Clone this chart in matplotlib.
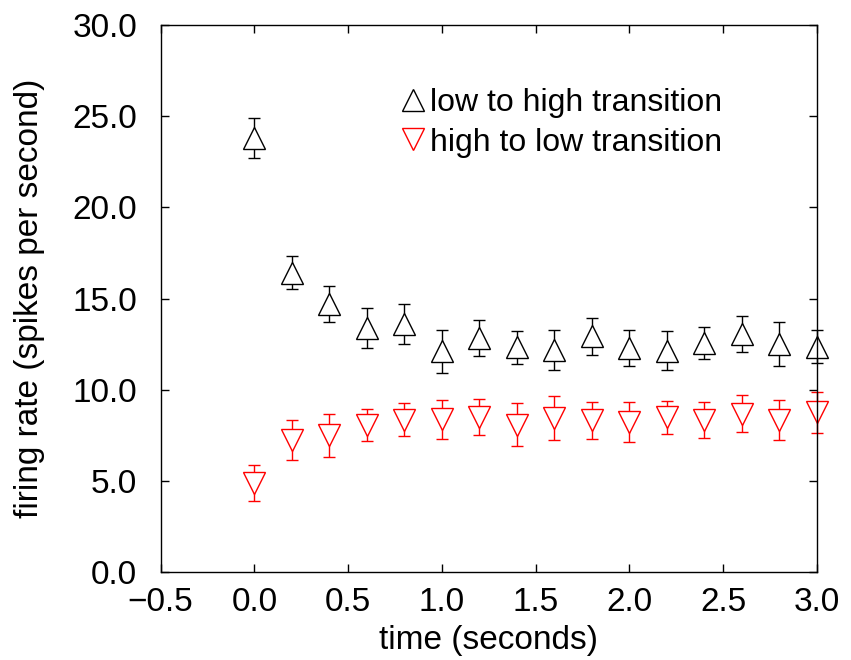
import numpy as np
import matplotlib
matplotlib.use('Agg')
import matplotlib.pyplot as plt
from matplotlib.lines import Line2D
from matplotlib.ticker import FuncFormatter

plt.rcParams['font.family'] = ['Liberation Sans', 'DejaVu Sans']

# time points (seconds)
time = [0.0, 0.2, 0.4, 0.6, 0.8, 1.0, 1.2, 1.4, 1.6, 1.8,
        2.0, 2.2, 2.4, 2.6, 2.8, 3.0]

# low to high transition
low_high = [23.8, 16.42, 14.69, 13.39, 13.61, 12.1, 12.86, 12.33, 12.2, 12.92,
            12.3, 12.15, 12.57, 13.06, 12.51, 12.35]
low_high_err = [1.09, 0.89, 0.99, 1.09, 1.09, 1.19, 0.99, 0.9, 1.1, 1.0,
                0.99, 1.09, 0.89, 1.0, 1.19, 0.9]

# high to low transition
high_low = [4.89, 7.26, 7.49, 8.06, 8.36, 8.37, 8.5, 8.09, 8.47, 8.32,
            8.23, 8.48, 8.34, 8.69, 8.32, 8.76]
high_low_err = [1.0, 1.09, 1.2, 0.9, 0.9, 1.09, 1.0, 1.2, 1.21, 1.0,
                1.09, 0.89, 0.99, 1.0, 1.09, 1.11]

labels = ['low to high transition', 'high to low transition']
red = '#ff0000'

fig = plt.figure(figsize=(8.51, 6.6), dpi=100)
ax = fig.add_axes([0.1888, 0.1333, 0.7712, 0.8287])

for y, err, mk, col in [(low_high, low_high_err, '^', 'black'),
                        (high_low, high_low_err, 'v', red)]:
    cont = ax.errorbar(time, y, yerr=err, fmt=mk, color=col,
                       markersize=15.5, markerfacecolor='white', markeredgewidth=1.0,
                       elinewidth=1.0, capsize=4, capthick=1.0)
    for art in cont.get_children():
        art.set_clip_on(False)

ax.set_xlim(-0.5, 3.0)
ax.set_ylim(0, 30)
ax.set_xticks(np.arange(-0.5, 3.01, 0.5))
ax.set_yticks(np.arange(0, 30.1, 5))
fmt = FuncFormatter(lambda v, p: ('%.1f' % v).replace('-', '\u2212'))
ax.xaxis.set_major_formatter(fmt)
ax.yaxis.set_major_formatter(fmt)
ax.tick_params(direction='in', length=6, width=1.0, top=True, right=True,
               labelsize=24)
ax.tick_params(axis='x', pad=11)
ax.tick_params(axis='y', pad=17)
for s in ax.spines.values():
    s.set_linewidth(1.0)

ax.set_xlabel('time (seconds)', fontsize=24, labelpad=5)
ax.set_ylabel('firing rate (spikes per second)', fontsize=24, labelpad=20)

handles = [Line2D([], [], ls='none', marker='^', markersize=15.5, color='black',
                  markerfacecolor='white', markeredgewidth=1.0),
           Line2D([], [], ls='none', marker='v', markersize=15.5, color=red,
                  markerfacecolor='white', markeredgewidth=1.0)]
ax.legend(handles, labels, loc='upper left', bbox_to_anchor=(0.36, 0.885),
          frameon=False, fontsize=23, handlelength=1.0, handletextpad=0.05,
          labelspacing=0.3, borderaxespad=0, borderpad=0)

fig.savefig('out.png', dpi=100)
